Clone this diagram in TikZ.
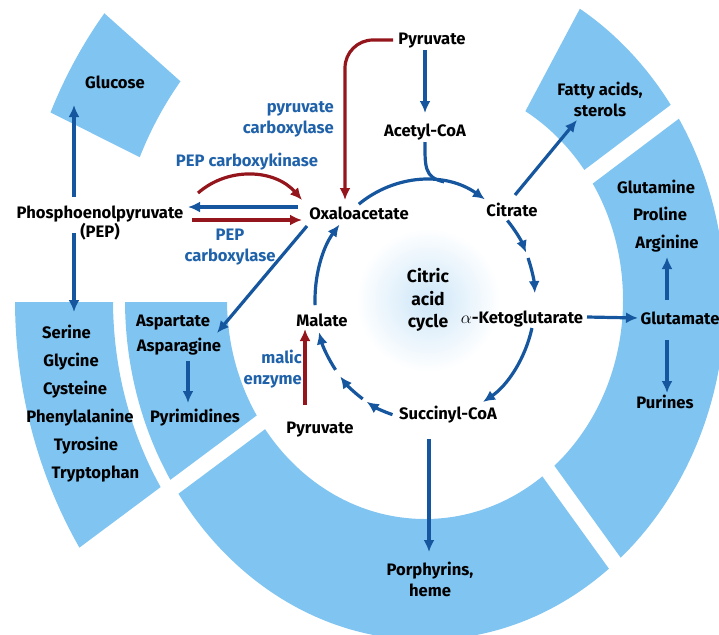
\documentclass[tikz,border=0pt]{standalone}
\usepackage{fontspec}
\setmainfont{Fira Sans}
\usetikzlibrary{positioning, calc, arrows.meta}

\definecolor{ringblue}{RGB}{128,196,241}
\definecolor{pathblue}{RGB}{22,86,158}
\definecolor{enzblue}{RGB}{32,98,170}
\definecolor{pathred}{RGB}{148,22,28}
\definecolor{glowblue}{RGB}{205,230,248}

\begin{document}
\begin{tikzpicture}[x=1pt, y=-1pt, font=\fontsize{16.6}{21}\selectfont\bfseries]
  \tikzstyle{met}=[inner sep=1pt, anchor=base]
  \tikzstyle{metblock}=[inner sep=1pt, align=center]
  \tikzstyle{enz}=[inner sep=1pt, text=enzblue]
  \tikzstyle{flow}=[color=pathblue, line width=3.2pt, -{Latex[length=12pt, width=11pt]}]
  \tikzstyle{redflow}=[color=pathred, line width=3.2pt, -{Latex[length=12pt, width=11pt]}]
  \tikzstyle{ring}=[fill=ringblue, even odd rule]

  \useasboundingbox (0,0) rectangle (719,634);
  \coordinate (C) at (425,300);

  % soft glow behind the cycle name
  \shade[inner color=glowblue, outer color=white] (428,300) circle (72);

  % ring segments: edge angle/offset, edge angle/offset, inner radii, outer radii
  \begin{scope}
    \clip (0,0) rectangle (719,634);
    \foreach \ta/\oa/\tb/\ob/\ri/\rj/\ro/\rp in {
      -62/0/-37/-8/198/219/300/340,     % fatty acids
      -37/8/54.2/-8/198/219/300/340,    % glutamate family
      54.2/8/143.3/-8/198/219/300/340,  % porphyrins
      143.3/8/180/-2/198/219/300/340,   % aspartate
      143.3/8/180/-2/312/352/410/460,   % serine family
      206.6/0/221.8/0/312/352/410/460}  % glucose
    {
      \begin{scope}
        \clip ($(C)+(\ta:40)+({\ta+90}:\oa)$) -- ($(C)+(\ta:600)+({\ta+90}:\oa)$)
          -- ($(C)+({(\ta+\tb)/2}:900)$)
          -- ($(C)+(\tb:600)+({\tb+90}:\ob)$) -- ($(C)+(\tb:40)+({\tb+90}:\ob)$) -- cycle;
        \fill[ring] (C) ellipse [x radius=\ro, y radius=\rp] (C) ellipse [x radius=\ri, y radius=\rj];
      \end{scope}
    }
  \end{scope}

  % metabolites
  \node[met] (pyr) at (432,45) {Pyruvate};
  \node[met] (acoa) at (425,136) {Acetyl-CoA};
  \node[met] (oaa) at (359,219) {Oxaloacetate};
  \node[met] (cit) at (512,216) {Citrate};
  \node[met] (akg) at (522,323) {$\alpha$-Ketoglutarate};
  \node[met] (succ) at (448,419) {Succinyl-CoA};
  \node[met] (mal) at (322,326) {Malate};
  \node[met] (pyrb) at (320,433) {Pyruvate};
  \node[metblock, font=\fontsize{17.5}{22.5}\selectfont\bfseries] (tca) at (428,300) {Citric\\acid\\cycle};

  \node[met] (pep) at (100,218) {Phosphoenolpyruvate};
  \node[met] (pepab) at (100,237) {(PEP)};
  \node[met] (glc) at (115,88) {Glucose};
  \node[metblock] (fat) at (600,99.5) {Fatty acids,\\sterols};
  \node[met] (gln) at (656,193) {Glutamine};
  \node[met] (pro) at (660,220) {Proline};
  \node[met] (arg) at (667,248) {Arginine};
  \node[met] (glu) at (680,324) {Glutamate};
  \node[met] (pur) at (665,408) {Purines};
  \node[metblock] (porph) at (430,579.5) {Porphyrins,\\heme};
  \node[met] (asp) at (173,326) {Aspartate};
  \node[met] (asn) at (179,351) {Asparagine};
  \node[met] (pyrim) at (195,422) {Pyrimidines};
  \foreach \nm/\x/\y/\txt in {ser/66.5/338/Serine, gly/71/366/Glycine, cys/75/394/Cysteine,
      phe/80/422/Phenylalanine, tyr/86/450/Tyrosine, trp/95.5/478/Tryptophan}
    \node[met] (\nm) at (\x,\y) {\txt};

  % enzymes
  \node[enz, align=right, anchor=east] (pcx) at (335,119) {pyruvate\\carboxylase};
  \node[enz, anchor=base] (pepck) at (247,166) {PEP carboxykinase};
  \node[enz, align=center] (pepc) at (230,247) {PEP\\carboxylase};
  \node[enz, align=right, anchor=east] (malic) at (303,369.5) {malic\\enzyme};

  % citric acid cycle
  \foreach \s/\e in {-127/-57, -41.5/-23.3, -20.5/-3.3, 13.5/58.2,
      107.2/122, 124.5/140.4, 144.4/164.4, 177.5/218.9}
    \draw[flow] ($(C)+(\s:110 and 120)$) arc[start angle=\s, end angle=\e, x radius=110, y radius=120];
  \coordinate (join) at ($(C)+(-80:110 and 120)$);
  \draw[pathblue, line width=3.2pt] ([shift={(0,6)}]acoa.base) .. controls +(0,24) and +(-20,-4) .. (join);

  % branches in and out of the cycle
  \draw[flow] ([shift={(-7,5)}]pyr.base) -- ([shift={(0,-23)}]acoa.base);
  \draw[redflow, rounded corners=28] ([shift={(-39,-5)}]pyr.base) -| ([shift={(-14,-19)}]oaa.base);
  \draw[flow] ([shift={(65,-6)}]akg.base) -- ([shift={(-42,-6)}]glu.base);
  \draw[flow] ([shift={(-19,20)}]succ.base) -- ([shift={(-1,-27.5)}]porph.center);
  \draw[flow] ([shift={(3,-21)}]cit.base) -- ([shift={(-23,20.5)}]fat.center);
  \draw[redflow] ([shift={(-15,-28)}]pyrb.base) -- ([shift={(-17,3)}]mal.base);
  \draw[flow] ([shift={(-52,7)}]oaa.base) -- ([shift={(44,7)}]asp.base);
  \draw[flow] ([shift={(-61,-12)}]oaa.base) -- ([shift={(88,-11)}]pep.base);
  \draw[redflow] ([shift={(92,2)}]pep.base) -- ([shift={(-57,1)}]oaa.base);
  \draw[redflow] ([shift={(98,-25)}]pep.base) to[bend left=45] ([shift={(-57,-19)}]oaa.base);
  \draw[flow] ([shift={(-26,-21)}]pep.base) -- ([shift={(-41,17)}]glc.base);
  \draw[flow] ([shift={(-26,-4)}]pepab.base) -- ([shift={(7.5,-26)}]ser.base);
  \draw[flow] ([shift={(9,10)}]asn.base) -- ([shift={(-7,-19)}]pyrim.base);
  \draw[flow] ([shift={(-13,-24)}]glu.base) -- ([shift={(0,9)}]arg.base);
  \draw[flow] ([shift={(-13,16)}]glu.base) -- ([shift={(2,-15)}]pur.base);
\end{tikzpicture}
\end{document}
